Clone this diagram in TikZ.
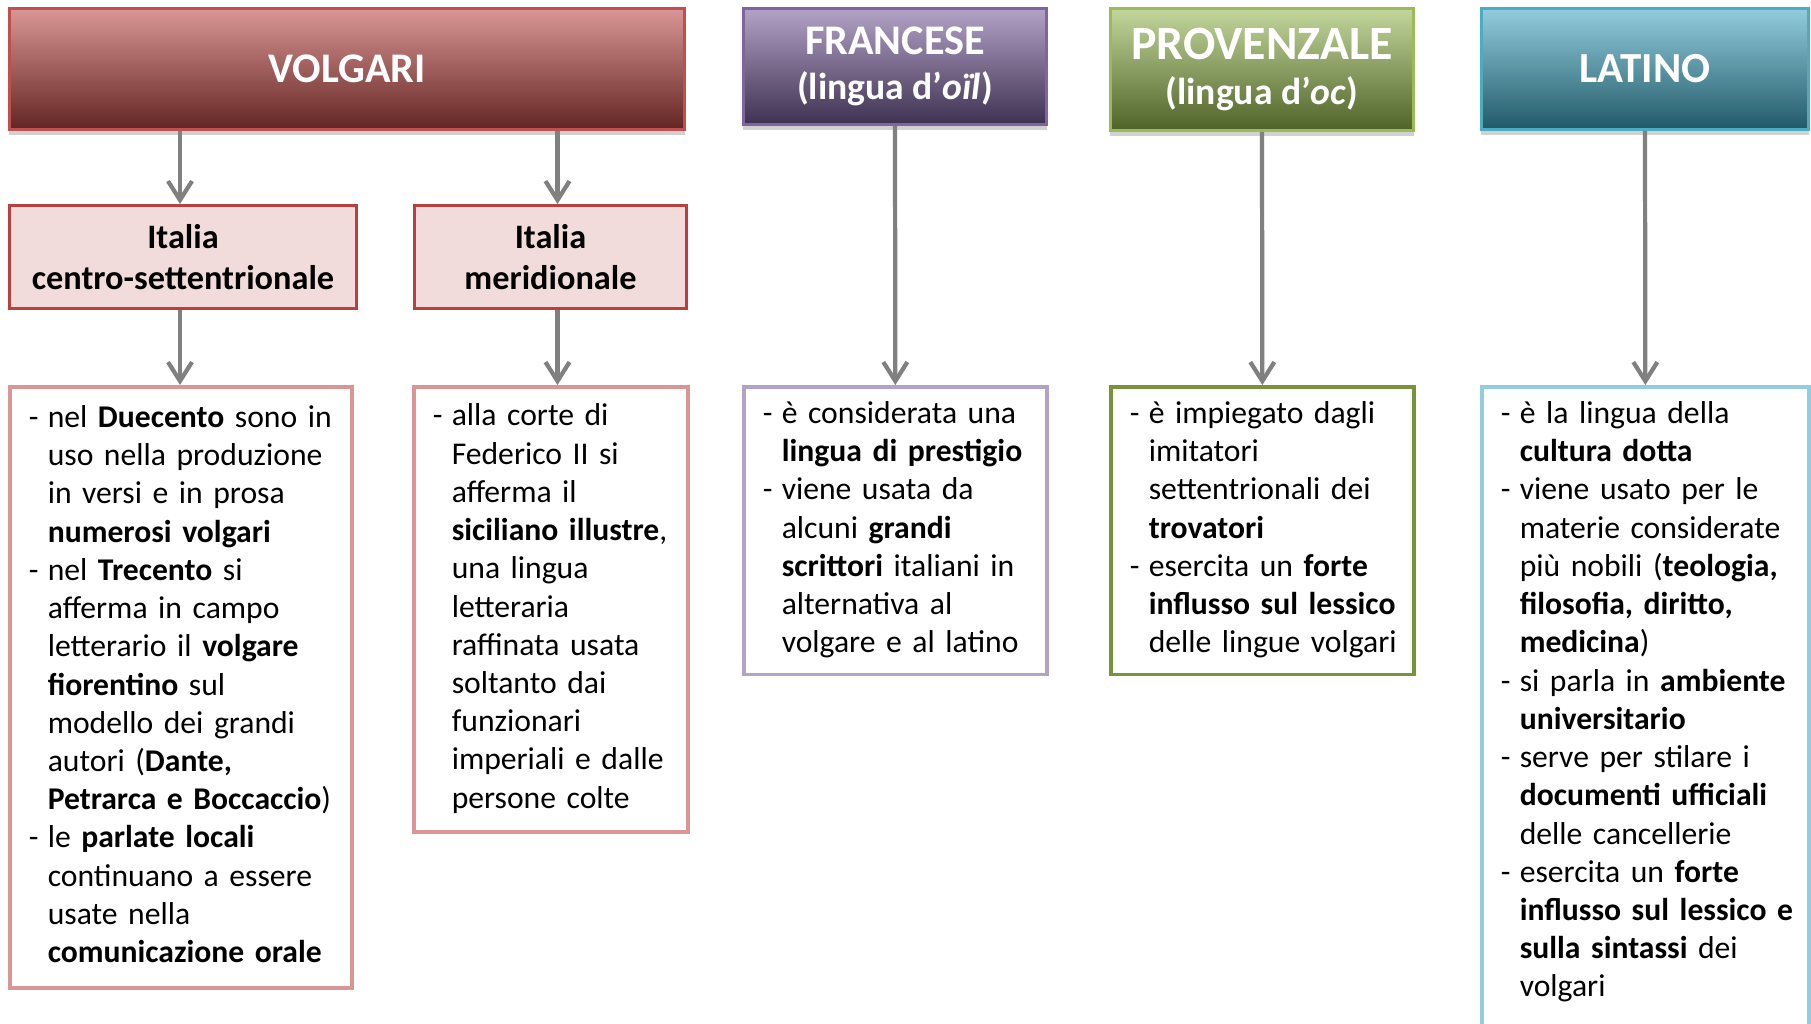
\documentclass[tikz,border=0pt]{standalone}
\usepackage{fontspec}
\setmainfont{Carlito}
\usetikzlibrary{arrows.meta,shadows}

\definecolor{bordoV}{HTML}{C0504D}
\definecolor{altoV}{HTML}{D99694}
\definecolor{bassoV}{HTML}{632523}
\definecolor{bordoF}{HTML}{8064A2}
\definecolor{altoF}{HTML}{B3A2C7}
\definecolor{bassoF}{HTML}{3F3151}
\definecolor{bordoP}{HTML}{9BBB59}
\definecolor{altoP}{HTML}{C3D69B}
\definecolor{bassoP}{HTML}{4F6228}
\definecolor{bordoL}{HTML}{4BACC6}
\definecolor{altoL}{HTML}{93CDDD}
\definecolor{bassoL}{HTML}{215968}
\definecolor{rosaIt}{HTML}{F2DCDB}
\definecolor{bordoIt}{HTML}{B9403D}
\definecolor{verdeT}{HTML}{77933C}

\newenvironment{punti}{\begin{tabular}{@{}p{1.9mm}@{}l@{}}}{\end{tabular}}
\newcommand{\sottotitolo}[1]{{\fontsize{10.7}{12.6}\selectfont #1}}

\tikzset{
	titolo/.style={anchor=north west, line width=0.8pt, text=white, align=center, inner sep=0pt,
		font=\bfseries\fontsize{12}{12.6}\selectfont,
		drop shadow={shadow xshift=0mm, shadow yshift=-0.6mm, fill=black!18, opacity=1}},
	regione/.style={anchor=north west, draw=bordoIt, fill=rosaIt, line width=0.8pt, align=center,
		inner sep=0pt, font=\bfseries\fontsize{9.75}{11.5}\selectfont},
	testo/.style={anchor=north west, line width=1pt, fill=white, align=left,
		inner xsep=1.9mm, inner ysep=1mm, font=\fontsize{9}{10.87}\selectfont},
	freccia/.style={draw=black!50, line width=1.2pt, -{Straight Barb[length=1.9mm, width=2.4mm]}}
}

\begin{document}
\begin{tikzpicture}[x=0.01cm, y=-0.01cm]
			%%%%% START %%%%%
			\clip (0, 0) rectangle (1811, 1023);
			\fill[white] (0, 0) rectangle (1811, 1023);
			
			\node[titolo, draw=bordoV, top color=altoV, bottom color=bassoV, minimum width=67.5mm, minimum height=12.1mm] (volgari) at (8, 7) {VOLGARI};
			\node[titolo, draw=bordoF, top color=altoF, bottom color=bassoF, minimum width=30.3mm, minimum height=11.6mm] (francese) at (742, 7) {FRANCESE\\\sottotitolo{(lingua d’\textit{oïl})}};
			\node[titolo, draw=bordoP, top color=altoP, bottom color=bassoP, minimum width=30.3mm, minimum height=12.2mm, font=\bfseries\fontsize{13.6}{13}\selectfont] (provenzale) at (1109, 7) {PROVENZALE\\\sottotitolo{(lingua d’\textit{oc})}};
			\node[titolo, draw=bordoL, top color=altoL, bottom color=bassoL, minimum width=32.7mm, minimum height=12.1mm, font=\bfseries\fontsize{12.2}{13}\selectfont] (latino) at (1480, 7) {LATINO};
			
			\node[regione, minimum width=34.7mm, minimum height=10.3mm] (centronord) at (8, 204) {Italia\\centro-settentrionale};
			\node[regione, minimum width=27.2mm, minimum height=10.3mm] (sud) at (413, 204) {Italia\\meridionale};
			
			\node[testo, draw=altoV, text width=30.4mm, minimum height=60.1mm] (testoCN) at (8, 385) {\begin{punti}
				- & nel \textbf{Duecento} sono in\\
				& uso nella produzione\\
				& in versi e in prosa\\
				& \textbf{numerosi volgari}\\
				- & nel \textbf{Trecento} si\\
				& afferma in campo\\
				& letterario il \textbf{volgare}\\
				& \textbf{fiorentino} sul\\
				& modello dei grandi\\
				& autori (\textbf{Dante,}\\
				& \textbf{Petrarca e Boccaccio})\\
				- & le \textbf{parlate locali}\\
				& continuano a essere\\
				& usate nella\\
				& \textbf{comunicazione orale}
			\end{punti}};
			
			\node[testo, draw=altoV, text width=23.6mm, minimum height=44.5mm] (testoSud) at (412, 385) {\begin{punti}
				- & alla corte di\\
				& Federico II si\\
				& afferma il\\
				& \textbf{siciliano illustre},\\
				& una lingua\\
				& letteraria\\
				& raffinata usata\\
				& soltanto dai\\
				& funzionari\\
				& imperiali e dalle\\
				& persone colte
			\end{punti}};
			
			\node[testo, draw=altoF, text width=26.5mm, minimum height=28.7mm] (testoF) at (742, 385) {\begin{punti}
				- & è considerata una\\
				& \textbf{lingua di prestigio}\\
				- & viene usata da\\
				& alcuni \textbf{grandi}\\
				& \textbf{scrittori} italiani in\\
				& alternativa al\\
				& volgare e al latino
			\end{punti}};
			
			\node[testo, draw=verdeT, text width=26.5mm, minimum height=28.7mm] (testoP) at (1109, 385) {\begin{punti}
				- & è impiegato dagli\\
				& imitatori\\
				& settentrionali dei\\
				& \textbf{trovatori}\\
				- & esercita un \textbf{forte}\\
				& \textbf{influsso sul lessico}\\
				& delle lingue volgari
			\end{punti}};
			
			\node[testo, draw=altoL, text width=28.9mm] (testoL) at (1480, 385) {\begin{punti}
				- & è la lingua della\\
				& \textbf{cultura dotta}\\
				- & viene usato per le\\
				& materie considerate\\
				& più nobili (\textbf{teologia,}\\
				& \textbf{filosofia, diritto,}\\
				& \textbf{medicina})\\
				- & si parla in \textbf{ambiente}\\
				& \textbf{universitario}\\
				- & serve per stilare i\\
				& \textbf{documenti ufficiali}\\
				& delle cancellerie\\
				- & esercita un \textbf{forte}\\
				& \textbf{influsso sul lessico e}\\
				& \textbf{sulla sintassi} dei\\
				& volgari\\
				& \\
				&
			\end{punti}};
			
			\draw[freccia] ([xshift=-0.3mm]volgari.south -| centronord.north) -- ([xshift=-0.3mm]centronord.north);
			\draw[freccia] ([xshift=0.7mm]volgari.south -| sud.north) -- ([xshift=0.7mm]sud.north);
			\draw[freccia] ([xshift=-0.3mm]centronord.south) -- ([xshift=-0.3mm]centronord.south |- testoCN.north);
			\draw[freccia] ([xshift=0.7mm]sud.south) -- ([xshift=0.7mm]sud.south |- testoSud.north);
			\draw[freccia] (francese.south) -- (testoF.north);
			\draw[freccia] (provenzale.south) -- (testoP.north);
			\draw[freccia] (latino.south) -- (testoL.north);
			
			%%%%% END %%%%%
		\end{tikzpicture}
\end{document}
